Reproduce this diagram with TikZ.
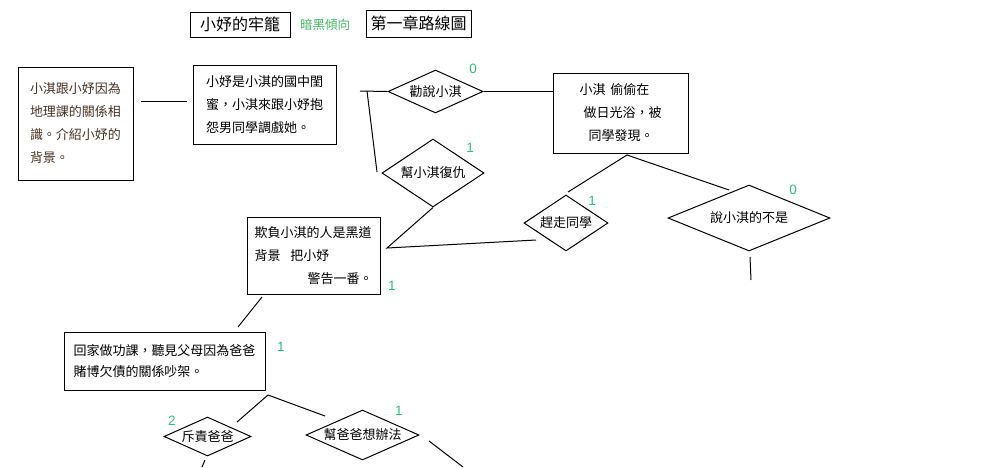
\documentclass[tikz,border=0pt]{standalone}
\usepackage{fontspec}
\setmainfont{Noto Sans CJK TC}
\newfontfamily\numfont{Liberation Sans}
\usetikzlibrary{shapes.geometric}
\definecolor{numc}{RGB}{50,185,120}
\definecolor{txta}{RGB}{70,50,35}
\definecolor{greentxt}{RGB}{70,180,100}
\begin{document}
\begin{tikzpicture}[x=1pt,y=-1pt, line width=1pt,
  box/.style={draw, inner sep=0pt, align=left, font=\fontsize{13}{23}\selectfont},
  dia/.style={draw, diamond, inner sep=0pt, font=\fontsize{13}{15}\selectfont},
  num/.style={text=numc, font=\numfont\fontsize{13.5}{14}\selectfont, inner sep=0pt},
  ttl/.style={draw, inner sep=0pt, font=\fontsize{16}{18}\selectfont}]
\useasboundingbox (0,0) rectangle (999,467);

% titles
\node[ttl, minimum width=100pt, minimum height=25pt] (t1) at (240,24.5) {小妤的牢籠};
\node[text=greentxt, font=\fontsize{12.5}{14}\selectfont, inner sep=0pt] (t2) at (325,25) {暗黑傾向};
\node[ttl, minimum width=105pt, minimum height=27pt] (t3) at (418.5,23.5) {第一章路線圖};

% boxes
\node[box, text=txta, minimum width=115pt, minimum height=113pt] (A) at (75.5,123.5) {小淇跟小妤因為\\地理課的關係相\\識。介紹小妤的\\背景。};
\node[box, minimum width=143pt, minimum height=79pt] (B) at (264.5,104.5) {小妤是小淇的國中閨\\蜜，小淇來跟小妤抱\\怨男同學調戲她。};
\node[box, minimum width=135pt, minimum height=80pt] (C) at (620.5,113) {小淇\hspace{5pt}偷偷在\\\hspace*{4pt}做日光浴，被\\\hspace*{9pt}同學發現。};
\node[box, minimum width=133pt, minimum height=77pt] (D) at (313.5,255.5) {欺負小淇的人是黑道\\背景\hspace{10pt}把小妤\\\hspace*{53pt}警告一番。};
\node[box, font=\fontsize{13}{21}\selectfont, minimum width=201pt, minimum height=58pt] (E) at (164.5,361) {回家做功課，聽見父母因為爸爸\\賭博欠債的關係吵架。};

% diamonds
\node[dia, shape aspect=2.2, minimum width=95pt, minimum height=43pt] (d1) at (435.5,91.5) {勸說小淇};
\node[dia, shape aspect=1.5, minimum width=102pt, minimum height=68pt] (d2) at (433,173) {幫小淇復仇};
\node[dia, shape aspect=1.5, minimum width=84pt, minimum height=56pt] (d3) at (566,223) {趕走同學};
\node[dia, shape aspect=2.45, minimum width=162pt, minimum height=66pt] (d4) at (749,218) {說小淇的不是};
\node[dia, shape aspect=2.23, minimum width=87pt, minimum height=39pt] (d5) at (207.5,436.5) {斥責爸爸};
\node[dia, shape aspect=2.26, minimum width=113pt, minimum height=50pt] (d6) at (362.5,435) {幫爸爸想辦法};

% numbers
\node[num] (n1) at (473,69) {0};
\node[num] (n2) at (470,148) {1};
\node[num] (n3) at (592,201) {1};
\node[num] (n4) at (793,190) {0};
\node[num] (n5) at (392,286) {1};
\node[num] (n6) at (281,347) {1};
\node[num] (n7) at (172,421) {2};
\node[num] (n8) at (399,411) {1};

% connector points
\coordinate (a1) at (141,101);
\coordinate (b1) at (187,101);
\coordinate (j1) at (360,91);
\coordinate (j2) at (367,91);
\coordinate (j3) at (377,172);
\coordinate (c0) at (627,155);
\coordinate (c1) at (568,192);
\coordinate (c2) at (729,190);
\coordinate (k1) at (387,248);
\coordinate (k2) at (536,240);
\coordinate (m1) at (750,257);
\coordinate (m2) at (751,280);
\coordinate (p1) at (262,297);
\coordinate (p2) at (238,327);
\coordinate (q0) at (268,395);
\coordinate (q1) at (237,422);
\coordinate (q2) at (325,416);
\coordinate (r1) at (205,460);
\coordinate (r2) at (202,467);
\coordinate (s1) at (429,441);
\coordinate (s2) at (463,467);

% connectors
\draw (a1) -- (b1);
\draw (j1) -- (d1.west);
\draw (j2) -- (j3);
\draw (d1.east) -- (d1.east -| C.west);
\draw (c1) -- (c0) -- (c2);
\draw (d2.south) -- (k1) -- (k2);
\draw (m1) -- (m2);
\draw (p1) -- (p2);
\draw (q1) -- (q0) -- (q2);
\draw (r1) -- (r2);
\draw (s1) -- (s2);
\end{tikzpicture}
\end{document}
